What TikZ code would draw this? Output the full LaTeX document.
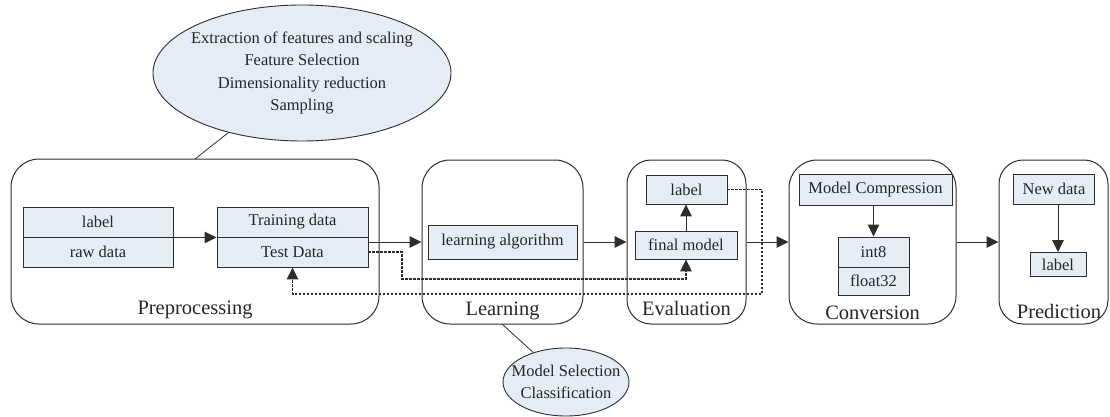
\documentclass[tikz,border=0pt]{standalone}
\usepackage{fontspec}
\setmainfont{Liberation Serif}
\usetikzlibrary{arrows.meta,shapes.geometric}
\definecolor{boxfill}{RGB}{230,236,246}
\definecolor{edge}{RGB}{45,45,45}
\newcommand{\boxfont}{\fontsize{16.5}{20}\selectfont}
\newcommand{\bubblefont}{\fontsize{16.5}{22.5}\selectfont}
\newcommand{\stagefont}{\fontsize{20.5}{24}\selectfont}
\begin{document}
\begin{tikzpicture}[x=1pt,y=-1pt,
  stage/.style={draw=edge, line width=1pt, rounded corners=28pt, inner sep=0pt, minimum height=164pt},
  pbox/.style={draw=edge, fill=boxfill, line width=0.9pt, inner sep=0pt, font=\boxfont, text=black!85},
  stlabel/.style={font=\stagefont, anchor=base, inner sep=0pt, text=black!85},
  bubble/.style={ellipse, draw=edge, fill=boxfill, line width=0.9pt, inner sep=0pt},
  bubbletext/.style={align=center, font=\bubblefont, inner sep=0pt, text=black!85},
  arr/.style={draw=edge, line width=1pt, -{Triangle[length=12pt,width=11.5pt]}},
  dsh/.style={arr, line width=1.2pt, dash pattern=on 2.5pt off 1.5pt},
  link/.style={draw=edge, line width=0.8pt}]
\useasboundingbox (0,0) rectangle (1110,417);

% stage frames
\node[stage, minimum width=368pt, minimum height=165pt] (pre) at (195,241.5) {};
\node[stage, minimum width=161pt] (learn) at (502.5,242) {};
\node[stage, rounded corners=24pt, minimum width=119pt] (eval) at (686.5,242) {};
\node[stage, minimum width=167pt] (conv) at (872.5,242) {};
\node[stage, rounded corners=24pt, minimum width=109pt] (pred) at (1053.5,242) {};

% stage titles
\node[stlabel] (preL) at (195,314) {Preprocessing};
\node[stlabel] (learnL) at (502.5,315) {Learning};
\node[stlabel] (evalL) at (686.5,315) {Evaluation};
\node[stlabel] (convL) at (872.5,319) {Conversion};
\node[stlabel] (predL) at (1059,318) {Prediction};

% preprocessing
\node[pbox, minimum width=150pt, minimum height=30pt] (lbl1) at (98,222) {label};
\node[pbox, minimum width=150pt, minimum height=30pt] (raw1) at (98,252) {raw data};
\node[pbox, minimum width=151pt, minimum height=30pt] (train) at (292.5,222) {Training data};
\node[pbox, minimum width=151pt, minimum height=30pt] (test) at (292.5,252) {Test Data};

% learning
\node[pbox, minimum width=149pt, minimum height=34pt] (algo) at (502.5,242) {learning algorithm};

% evaluation
\node[pbox, minimum width=81pt, minimum height=29pt] (lbl2) at (686.5,189.5) {label};
\node[pbox, minimum width=102pt, minimum height=28pt] (fm) at (686,245) {final model};

% conversion
\node[pbox, minimum width=153pt, minimum height=31pt] (mc) at (875.5,189.5) {Model Compression};
\node[pbox, minimum width=71pt, minimum height=30pt] (int8) at (873.5,252) {int8};
\node[pbox, minimum width=71pt, minimum height=28pt] (f32) at (873.5,281) {float32};

% prediction
\node[pbox, minimum width=81pt, minimum height=30pt] (nd) at (1054,189) {New data};
\node[pbox, minimum width=56pt, minimum height=24pt] (lbl3) at (1058,264.5) {label};

% annotation bubbles
\node[bubble, minimum width=298pt, minimum height=136pt] (ell1) at (302,73) {};
\node[bubbletext] (ell1txt) at (ell1.center) {Extraction of features and scaling\\Feature Selection\\Dimensionality reduction\\Sampling};
\node[bubble, minimum width=126pt, minimum height=68pt] (ell2) at (566,382) {};
\node[bubbletext] (ell2txt) at (ell2.center) {Model Selection\\Classification};

\coordinate (preTop) at (195,159);
\coordinate (learnBot) at (502,324);
\draw[link] (ell1.219) -- (preTop);
\draw[link] (ell2.138) -- (learnBot);

% main flow
\draw[arr] (lbl1.south east) -- (train.south west);
\draw[arr] (algo.west -| test.east) -- (learn.west);
\draw[arr] (learn.east) -- (eval.west);
\draw[arr] (fm.north) -- (fm.north |- lbl2.south);
\draw[arr] (eval.east) -- (conv.west);
\draw[arr] (int8.north |- mc.south) -- (int8.north);
\draw[arr] (conv.east) -- (pred.west);
\draw[arr] (lbl3.north |- nd.south) -- (lbl3.north);

% test data feedback loops
\coordinate (d1) at (402,279);
\draw[dsh] (test.east) -| (d1) -- (d1 -| fm.south) -- (fm.south);
\coordinate (d2) at (762,294);
\draw[dsh] (lbl2.east) -| (d2) -- (d2 -| test.south) -- (test.south);
\end{tikzpicture}
\end{document}
